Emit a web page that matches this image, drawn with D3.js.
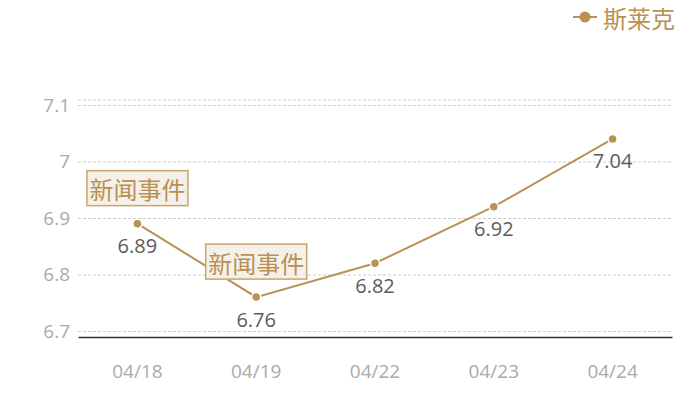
<!DOCTYPE html>
<html><head><meta charset="utf-8">
<script src="https://cdn.jsdelivr.net/npm/d3@7"></script>
<style>
html,body{margin:0;padding:0;background:#fff;}
svg{display:block;font-family:"Noto Sans CJK SC","Open Sans",sans-serif;}
</style></head>
<body><svg id="c" width="700" height="400"></svg>
<script>
const categories = ["04/18","04/19","04/22","04/23","04/24"];
const values = [6.89, 6.76, 6.82, 6.92, 7.04];
const yTicks = [6.7, 6.8, 6.9, 7, 7.1];
const seriesName = "斯莱克";
const eventDates = ["04/18","04/19"];
const eventText = "新闻事件";

(function(){
const gold = "#b99154";
const svg = d3.select("#c");
const pLeft = 78, pRight = 672, pTop = 100, pBottom = 337;

const x = d3.scaleBand().domain(categories).range([pLeft, pRight]);
const y = d3.scaleLinear().domain([6.6894, 7.1088]).range([pBottom, pTop]);
const cx = c => x(c) + x.bandwidth() / 2;

// top boundary dashed line
svg.append("line").attr("x1", pLeft).attr("x2", pRight)
  .attr("y1", y(y.domain()[1])).attr("y2", y(y.domain()[1]))
  .attr("stroke", "#ccc").attr("stroke-dasharray", "3,2");

// y axis with gridlines
const yAxis = svg.append("g").attr("transform", `translate(${pLeft},0)`)
  .call(d3.axisLeft(y).tickValues(yTicks).tickFormat(d3.format("")).tickSize(-(pRight-pLeft)).tickPadding(8));
yAxis.select(".domain").remove();
yAxis.selectAll(".tick line").attr("stroke", "#ccc").attr("stroke-dasharray", "3,2");
yAxis.selectAll(".tick text").attr("fill", "#aaa").attr("font-size", 19)
  .attr("font-family", "'Open Sans',sans-serif");

// x axis
const xAxis = svg.append("g").attr("transform", `translate(0,${pBottom})`)
  .call(d3.axisBottom(x).tickSize(0).tickPadding(28));
xAxis.select(".domain").attr("stroke", "#333").attr("stroke-width", 1.3);
xAxis.selectAll(".tick text").attr("fill", "#aaa").attr("font-size", 19)
  .attr("font-family", "'Open Sans',sans-serif");

const data = categories.map((c, i) => ({c, v: values[i]}));

// line
svg.append("path").datum(data)
  .attr("fill", "none").attr("stroke", gold).attr("stroke-width", 2)
  .attr("d", d3.line().x(d => cx(d.c)).y(d => y(d.v)));

// points
svg.selectAll("circle.pt").data(data).join("circle").attr("class", "pt")
  .attr("cx", d => cx(d.c)).attr("cy", d => y(d.v)).attr("r", 4.5)
  .attr("fill", gold).attr("stroke", "#fff").attr("stroke-width", 1.5);

// value labels
svg.selectAll("text.val").data(data).join("text").attr("class", "val")
  .attr("x", d => cx(d.c)).attr("y", d => y(d.v) + 22)
  .attr("text-anchor", "middle").attr("dominant-baseline", "central")
  .attr("fill", "#5c5c5c").attr("font-size", 20)
  .attr("font-family", "'Open Sans',sans-serif")
  .text(d => d.v);

// event annotations
const ev = svg.selectAll("g.ev").data(data.filter(d => eventDates.includes(d.c))).join("g").attr("class", "ev");
ev.append("rect")
  .attr("x", d => cx(d.c) - 50.5).attr("y", d => y(d.v) - 18 - 35)
  .attr("width", 101).attr("height", 35)
  .attr("fill", "#f5f0e9").attr("stroke", "#c9a46c").attr("stroke-width", 1.5);
ev.append("text")
  .attr("x", d => cx(d.c)).attr("y", d => y(d.v) - 18 - 17)
  .attr("text-anchor", "middle").attr("dominant-baseline", "central")
  .attr("fill", gold).attr("font-size", 24)
  .text(eventText);

// legend
const lg = svg.append("g");
lg.append("line").attr("x1", 573).attr("x2", 597).attr("y1", 17).attr("y2", 17)
  .attr("stroke", gold).attr("stroke-width", 2);
lg.append("circle").attr("cx", 585).attr("cy", 17).attr("r", 5.5).attr("fill", gold);
lg.append("text").attr("x", 603).attr("y", 17).attr("dominant-baseline", "central")
  .attr("fill", gold).attr("font-size", 24).text(seriesName);
})();
</script></body></html>
